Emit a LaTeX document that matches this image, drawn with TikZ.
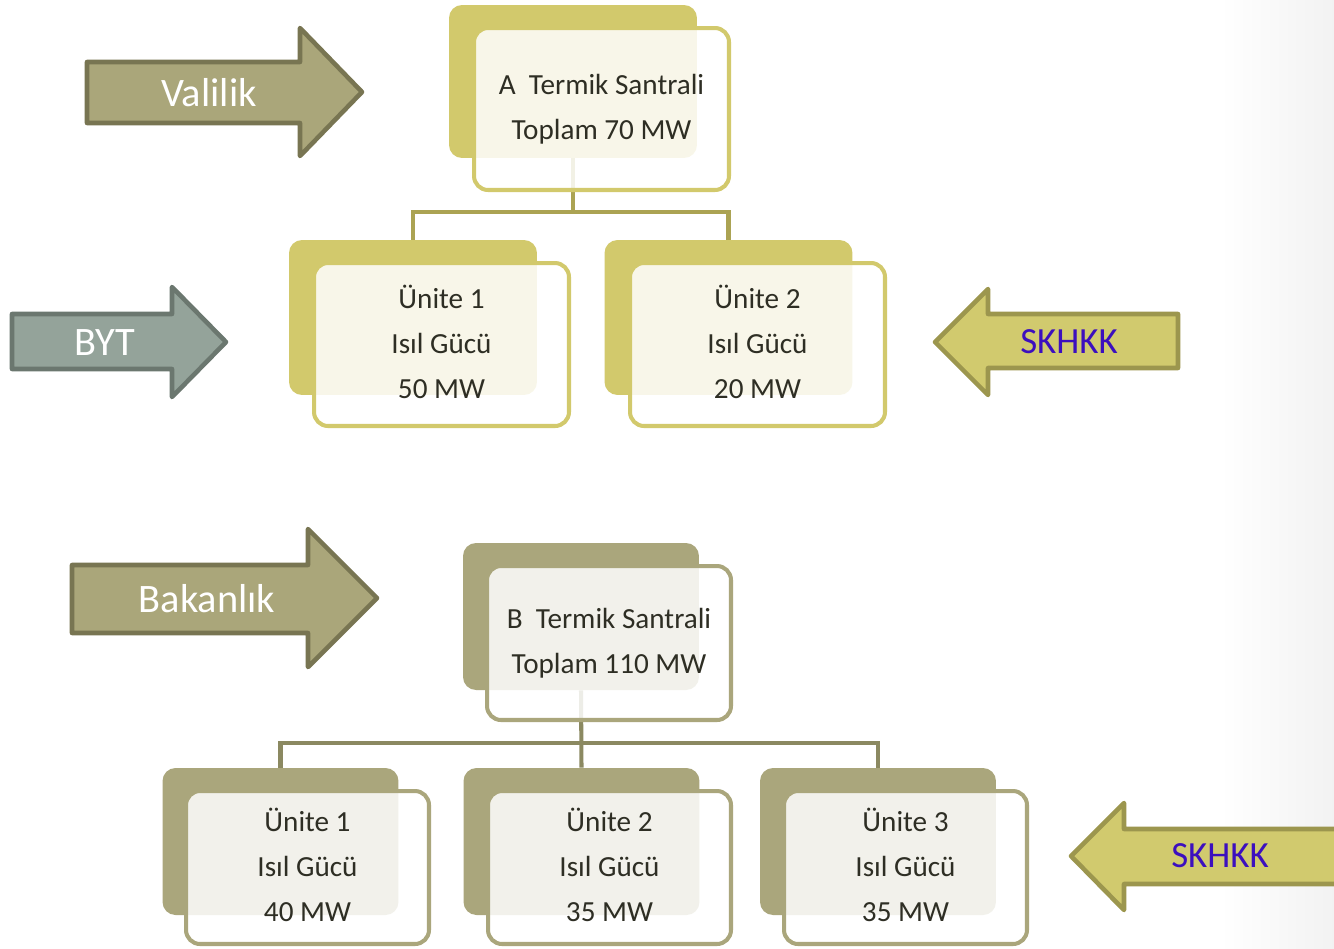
\documentclass[tikz,border=0pt]{standalone}
\usepackage{fontspec}
\setmainfont{Carlito}
\pgfdeclarelayer{paper}
\pgfdeclarelayer{bg}
\pgfsetlayers{paper,bg,main}
\definecolor{ylw}{HTML}{D2C96C}
\definecolor{ylwline}{HTML}{ABA353}
\definecolor{khaki}{HTML}{AAA67C}
\definecolor{khakiline}{HTML}{8B8961}
\definecolor{arrkhaki}{HTML}{AAA67A}
\definecolor{arrkhakiline}{HTML}{787552}
\definecolor{bytfill}{HTML}{94A39A}
\definecolor{bytline}{HTML}{6B776F}
\definecolor{skfill}{HTML}{D1CA6E}
\definecolor{skline}{HTML}{9C964E}
\definecolor{sktext}{HTML}{3C0FBE}
\definecolor{txt}{HTML}{2E2E24}
\newcommand{\lowstrut}{\rule[-3pt]{0pt}{3pt}}
\begin{document}
\begin{tikzpicture}[x=0.02cm,y=-0.02cm,
  backbox/.style={draw=none,rounded corners=0.26cm,inner sep=0pt},
  frontbox/.style={line width=2.3pt,rounded corners=0.28cm,inner sep=0pt,
    fill=white,fill opacity=0.85,text opacity=1,text=txt,align=center,
    font=\fontsize{16.6}{25.4}\selectfont},
  conn/.style={line width=2.3pt},
  arrowshape/.style={line width=2.6pt,line join=round},
  arrtext/.style={text=white,font=\fontsize{23}{27}\selectfont},
  sktxt/.style={text=sktext,font=\fontsize{21}{25}\selectfont}]
\clip (0,0) rectangle (1334,948);
\useasboundingbox (0,0) rectangle (1334,948);
\begin{pgfonlayer}{paper}
\fill[white] (0,0) rectangle (1334,948);
\shade[left color=white,right color=black!5,draw=none] (1220,0) rectangle (1334,948);
\end{pgfonlayer}

% ---------- top plant ----------
\node[backbox,fill=ylw,minimum width=4.96cm,minimum height=3.06cm] (Aback) at (573,81.5) {};
\node[frontbox,draw=ylw,minimum width=5.1cm,minimum height=3.24cm] (Afront) at (601.5,109) {A\ \ Termik Santrali\\Toplam 70 MW};

\node[backbox,fill=ylw,minimum width=4.96cm,minimum height=3.1cm] (u1back) at (413,317.5) {};
\node[frontbox,draw=ylw,minimum width=5.1cm,minimum height=3.26cm] (u1front) at (441.5,344.5) {Ünite 1\\Isıl Gücü\\50 MW\lowstrut};

\node[backbox,fill=ylw,minimum width=4.96cm,minimum height=3.1cm] (u2back) at (728.5,317.5) {};
\node[frontbox,draw=ylw,minimum width=5.1cm,minimum height=3.26cm] (u2front) at (757.5,344.5) {Ünite 2\\Isıl Gücü\\20 MW\lowstrut};

\coordinate (Ajoin) at (573,212);
\begin{pgfonlayer}{bg}
\draw[conn,draw=ylwline] (Aback.south) -- (Ajoin);
\draw[conn,draw=ylwline] (Ajoin) -| (u1back.north);
\draw[conn,draw=ylwline] (Ajoin) -| (u2back.north);
\end{pgfonlayer}

% ---------- bottom plant ----------
\node[backbox,fill=khaki,minimum width=4.72cm,minimum height=2.94cm] (Bback) at (581,616.5) {};
\node[frontbox,draw=khaki,minimum width=4.88cm,minimum height=3.08cm] (Bfront) at (609,643) {B\ \ Termik Santrali\\Toplam 110 MW};

\node[backbox,fill=khaki,minimum width=4.72cm,minimum height=2.94cm] (b1back) at (280.5,841.5) {};
\node[frontbox,draw=khaki,minimum width=4.86cm,minimum height=3.06cm] (b1front) at (307.5,867.5) {Ünite 1\\Isıl Gücü\\40 MW\lowstrut};

\node[backbox,fill=khaki,minimum width=4.72cm,minimum height=2.94cm] (b2back) at (581.5,841.5) {};
\node[frontbox,draw=khaki,minimum width=4.86cm,minimum height=3.06cm] (b2front) at (609.5,867.5) {Ünite 2\\Isıl Gücü\\35 MW\lowstrut};

\node[backbox,fill=khaki,minimum width=4.72cm,minimum height=2.94cm] (b3back) at (878,841.5) {};
\node[frontbox,draw=khaki,minimum width=4.86cm,minimum height=3.06cm] (b3front) at (905.5,867.5) {Ünite 3\\Isıl Gücü\\35 MW\lowstrut};

\coordinate (Bjoin) at (581.5,743);
\begin{pgfonlayer}{bg}
\draw[conn,draw=khakiline] (Bback.south) -- (b2back.north);
\draw[conn,draw=khakiline] (Bjoin) -| (b1back.north);
\draw[conn,draw=khakiline] (Bjoin) -| (b3back.north);
\end{pgfonlayer}

% ---------- arrows ----------
\draw[arrowshape,fill=arrkhaki,draw=arrkhakiline]
  (87,62) -- (300,62) -- (300,28) -- (362,92) -- (300,156) -- (300,123) -- (87,123) -- cycle;
\node[arrtext] (valilik) at (209,93) {Valilik};

\draw[arrowshape,fill=bytfill,draw=bytline]
  (12,314) -- (172,314) -- (172,287) -- (226,342) -- (172,397) -- (172,369) -- (12,369) -- cycle;
\node[arrtext] (byt) at (105,343) {BYT};

\draw[arrowshape,fill=skfill,draw=skline]
  (1178,314) -- (988,314) -- (988,289) -- (935,342) -- (988,395) -- (988,368) -- (1178,368) -- cycle;
\node[sktxt] (sk1) at (1069,342) {SKHKK};

\draw[arrowshape,fill=arrkhaki,draw=arrkhakiline]
  (72,565) -- (308,565) -- (308,529) -- (377,598) -- (308,667) -- (308,633) -- (72,633) -- cycle;
\node[arrtext] (bakanlik) at (207,599) {Bakanlık};

\draw[arrowshape,fill=skfill,draw=skline]
  (1345,829) -- (1124,829) -- (1124,803) -- (1071,856) -- (1124,910) -- (1124,884) -- (1345,884) -- cycle;
\node[sktxt] (sk2) at (1220,856) {SKHKK};
\end{tikzpicture}
\end{document}
